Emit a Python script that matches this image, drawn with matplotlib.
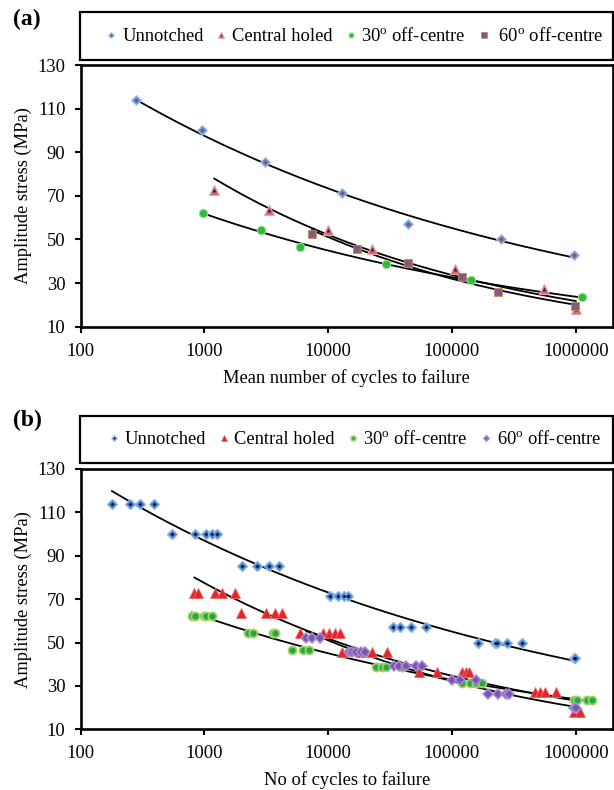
import numpy as np
import matplotlib
matplotlib.use("Agg")
import matplotlib.pyplot as plt
from matplotlib.lines import Line2D
from matplotlib.patches import Rectangle
from matplotlib.legend_handler import HandlerTuple
from matplotlib.ticker import FixedLocator, NullLocator, FuncFormatter

plt.rcParams['font.family'] = ['Liberation Serif', 'DejaVu Serif']
plt.rcParams['mathtext.fontset'] = 'custom'
plt.rcParams['mathtext.rm'] = 'Liberation Serif'

# ---------------- data: panel (a) ----------------
series_labels_a = ["Unnotched", "Central holed", r"30$^{\mathrm{o}}$ off-centre", r" 60$^{\mathrm{o}}$ off-centre"]
series_labels_b = ["Unnotched", "Central holed", r"30$^{\mathrm{o}}$ off-centre", r"60$^{\mathrm{o}}$ off-centre"]

a_un_N = [280, 960, 3100, 13000, 44000, 250000, 960000]
a_un_S = [114, 100, 85.5, 71.3, 57, 50, 42.8]
a_ch_N = [1200, 3300, 10000, 22500, 105000, 550000, 1000000]
a_ch_S = [72.7, 63.6, 54.5, 45.5, 36.4, 27.3, 18.2]
a_30_N = [970, 2850, 5900, 29500, 142000, 1120000]
a_30_S = [62.3, 54.5, 46.7, 38.9, 31.2, 23.4]
a_60_N = [7400, 17000, 44500, 120000, 235000, 980000]
a_60_S = [52.3, 45.7, 39.2, 32.7, 26.1, 19.6]

# ---------------- data: panel (b) ----------------
b_un_N = [179, 251, 299, 388,
          550, 841, 1033, 1153, 1273,
          2015, 2673, 3300, 3970,
          10300, 12100, 13300, 14500,
          33400, 38300, 46700, 61700,
          161000, 222000, 231000, 281000, 365000,
          969000, 990000]
b_un_S = [114]*4 + [100]*5 + [85.5]*4 + [71.3]*4 + [57]*4 + [50]*5 + [42.8]*2

b_ch_N = [830, 883, 1206, 1380, 1770,
          1980, 3150, 3720, 4200,
          5920, 9160, 10200, 11300, 12500,
          12900, 18400, 22800, 29700,
          54200, 76200, 120000, 129000, 138000,
          473000, 510000, 562000, 699000,
          969000, 1077000]
b_ch_S = [72.7]*5 + [63.6]*4 + [54.5]*5 + [45.5]*4 + [36.4]*5 + [27.3]*4 + [18.2]*2

b_30_N = [790, 842, 986, 1032, 1145,
          2230, 2450, 3550, 3720,
          5060, 6210, 7030,
          24500, 27400, 29500, 39700,
          121000, 139000, 155000, 175000,
          969000, 1024000, 1232000, 1352000]
b_30_S = [62.3]*5 + [54.5]*4 + [46.7]*3 + [38.9]*4 + [31.2]*4 + [23.4]*4

b_60_N = [6610, 7390, 8580,
          14600, 15700, 16900, 18300, 19800,
          34000, 37400, 42900, 51600, 57000,
          99400, 117000, 155000,
          195000, 234000, 271000, 288000,
          975000, 1000000]
b_60_S = [52.3]*3 + [45.7]*5 + [39.2]*5 + [32.7]*3 + [26.1]*4 + [19.6]*2

yticks = [10, 30, 50, 70, 90, 110, 130]
xticks = [100, 1000, 10000, 100000, 1000000]

# ---------------- figure ----------------
W, H = 614, 790
fig = plt.figure(figsize=(W/100, H/100), dpi=100)

def fx(px):
    return px / W

def fy(py):
    return 1 - py / H

XMAX = 10 ** (2 + 532 / 123.75)
FS = 13.3

def setup_axes(rect, xlabel):
    ax = fig.add_axes(rect)
    ax.set_xscale('log')
    ax.set_xlim(100, XMAX)
    ax.set_ylim(10, 130)
    ax.xaxis.set_major_locator(FixedLocator(xticks))
    ax.xaxis.set_minor_locator(NullLocator())
    ax.xaxis.set_major_formatter(FuncFormatter(lambda v, p: "%d" % round(v)))
    ax.yaxis.set_major_locator(FixedLocator(yticks))
    ax.tick_params(direction='out', length=4, width=1.5, labelsize=FS, colors='black')
    ax.tick_params(axis='y', pad=7)
    ax.tick_params(axis='x', pad=7.5)
    for s in ax.spines.values():
        s.set_linewidth(1.9)
        s.set_color('black')
    ax.set_ylabel("Amplitude stress (MPa)", fontsize=FS, labelpad=4)
    ax.set_xlabel(xlabel, fontsize=FS, labelpad=6.5)
    return ax

def trend(ax, N, S):
    lx = np.log10(N)
    ly = np.log10(S)
    b, a = np.polyfit(lx, ly, 1)
    xx = np.logspace(lx.min(), lx.max(), 200)
    ax.plot(xx, 10 ** a * xx ** b, color='black', lw=1.3, zorder=2)

# ---------------- panel (a) ----------------
axa = setup_axes([fx(80.7), fy(326.7), 532 / W, 261.7 / H], "Mean number of cycles to failure")

sty_a = [
    [dict(marker='D', ms=5, mfc='#5B93D6', mec='#A8C8EE', mew=0.8),
     dict(marker='o', ms=2.2, mfc='#E8262A', mec='#E8262A', mew=0)],
    [dict(marker='^', ms=7, mfc='#D9676B', mec='#EFA3A5', mew=0.8),
     dict(marker='^', ms=2.8, mfc='#1C2A6E', mec='#1C2A6E', mew=0)],
    [dict(marker='o', ms=6, mfc='#2DBB3A', mec='#9EDC8E', mew=0.8)],
    [dict(marker='s', ms=6.3, mfc='#A7602F', mec='#C08E6A', mew=0.6),
     dict(marker='x', ms=4.2, mfc='none', mec='#6B5BB0', mew=1.2)],
]
data_a = [(a_un_N, a_un_S), (a_ch_N, a_ch_S), (a_30_N, a_30_S), (a_60_N, a_60_S)]
for (N, S), st in zip(data_a, sty_a):
    trend(axa, N, S)
for (N, S), st in zip(data_a, sty_a):
    for k in st:
        axa.plot(N, S, ls='none', zorder=3, **k)

# ---------------- panel (b) ----------------
axb = setup_axes([fx(80.7), fy(729.3), 532 / W, 260.3 / H], "No of cycles to failure")

sty_b = [
    [dict(marker='D', ms=4.6, mfc='#3F7CC9', mec='#93B9E6', mew=1.0),
     dict(marker='o', ms=1.9, mfc='black', mec='black', mew=0)],
    [dict(marker='^', ms=6.5, mfc='#E2262A', mec='#EE6A6A', mew=0.6)],
    [dict(marker='o', ms=5.8, mfc='#22A84A', mec='#A5D266', mew=1.3)],
    [dict(marker='D', ms=4.6, mfc='#7A55AF', mec='#A98CD4', mew=1.1)],
]
data_b = [(b_un_N, b_un_S), (b_ch_N, b_ch_S), (b_30_N, b_30_S), (b_60_N, b_60_S)]
for (N, S), st in zip(data_b, sty_b):
    trend(axb, N, S)
for (N, S), st in zip(data_b, sty_b):
    for k in st:
        axb.plot(N, S, ls='none', zorder=3, **k)

# ---------------- legends ----------------
def make_handles(styles, scale):
    hs = []
    for st in styles:
        parts = []
        for k in st:
            k2 = dict(k)
            k2['ms'] = k2['ms'] * scale
            parts.append(Line2D([], [], ls='none', **k2))
        hs.append(tuple(parts))
    return hs

def legend_box(handles, labels, top, bottom, cx):
    fig.patches.append(Rectangle((fx(80), fy(bottom)), (613 - 80) / W, (bottom - top) / H,
                                 transform=fig.transFigure, fill=False,
                                 edgecolor='black', lw=1.6, zorder=5))
    fig.legend(handles, labels, loc='center', bbox_to_anchor=(fx(cx), fy((top + bottom) / 2)),
               ncol=4, frameon=False, fontsize=FS, handlelength=0.55, handletextpad=0.3,
               columnspacing=0.7, borderpad=0, borderaxespad=0,
               handler_map={tuple: HandlerTuple(ndivide=1)})

legend_box(make_handles(sty_a, 0.6), series_labels_a, 12, 60, 355)
legend_box(make_handles(sty_b, 0.6), series_labels_b, 416, 463, 355)

# panel labels
fig.text(fx(13), fy(19), "(a)", fontsize=17, fontweight='bold', va='center', ha='left')
fig.text(fx(13), fy(420), "(b)", fontsize=17, fontweight='bold', va='center', ha='left')

fig.savefig("out.png", dpi=100)
